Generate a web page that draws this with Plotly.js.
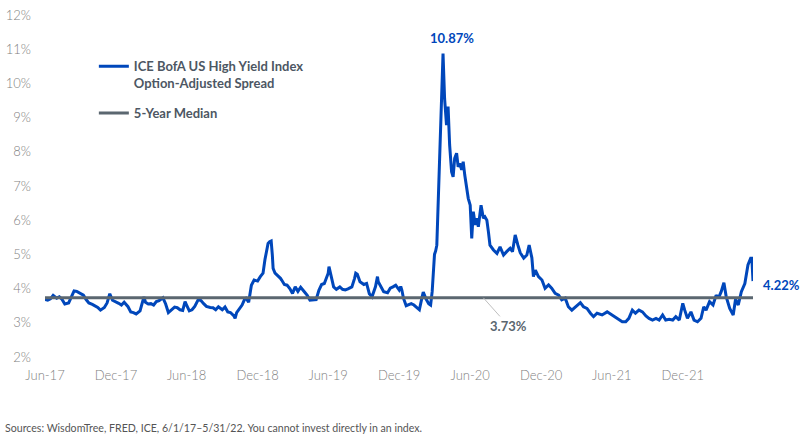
<!DOCTYPE html>
<html>
<head>
<meta charset="utf-8">
<script src="https://cdn.plot.ly/plotly-3.0.1.min.js"></script>
<style>
  html, body { margin: 0; padding: 0; background: #ffffff; }
  #chart { width: 800px; height: 446px; }
</style>
</head>
<body>
<div id="chart"></div>
<script>
// ---- Data ----
const dates = [
  "2017-06-01","2017-06-08","2017-06-15","2017-06-22","2017-07-01","2017-07-08","2017-07-15","2017-07-22",
  "2017-08-01","2017-08-08","2017-08-15","2017-08-22","2017-09-01","2017-09-08","2017-09-15","2017-09-22",
  "2017-10-01","2017-10-08","2017-10-15","2017-10-22","2017-11-01","2017-11-08","2017-11-15","2017-11-22",
  "2017-12-01","2017-12-08","2017-12-15","2017-12-22",
  "2018-01-01","2018-01-08","2018-01-15","2018-01-22","2018-02-01","2018-02-08","2018-02-11","2018-02-15","2018-02-22",
  "2018-03-01","2018-03-08","2018-03-15","2018-03-22","2018-04-01","2018-04-08","2018-04-15","2018-04-22",
  "2018-05-01","2018-05-08","2018-05-15","2018-05-22","2018-05-28","2018-06-01","2018-06-08","2018-06-15","2018-06-22",
  "2018-07-01","2018-07-08","2018-07-15","2018-07-22","2018-08-01","2018-08-08","2018-08-15","2018-08-22",
  "2018-09-01","2018-09-08","2018-09-15","2018-09-22","2018-10-01","2018-10-04","2018-10-08","2018-10-15","2018-10-22","2018-10-29",
  "2018-11-01","2018-11-08","2018-11-15","2018-11-22","2018-12-01","2018-12-08","2018-12-15","2018-12-20","2018-12-24","2018-12-28",
  "2019-01-01","2019-01-05","2019-01-08","2019-01-10","2019-01-15","2019-01-22","2019-01-29",
  "2019-02-01","2019-02-08","2019-02-15","2019-02-22","2019-03-01","2019-03-08","2019-03-15","2019-03-22",
  "2019-04-01","2019-04-08","2019-04-15","2019-04-22","2019-05-01","2019-05-08","2019-05-15","2019-05-22",
  "2019-06-01","2019-06-03","2019-06-08","2019-06-15","2019-06-22","2019-07-01","2019-07-08","2019-07-15","2019-07-22",
  "2019-08-01","2019-08-08","2019-08-11","2019-08-15","2019-08-22","2019-09-01","2019-09-08","2019-09-15","2019-09-22",
  "2019-10-01","2019-10-06","2019-10-08","2019-10-15","2019-10-22","2019-11-01","2019-11-08","2019-11-15","2019-11-22",
  "2019-12-01","2019-12-05","2019-12-08","2019-12-12","2019-12-19",
  "2020-01-01","2020-01-08","2020-01-15","2020-01-22","2020-01-29","2020-02-01","2020-02-08","2020-02-15","2020-02-20","2020-02-24",
  "2020-03-01","2020-03-04","2020-03-07","2020-03-11","2020-03-16","2020-03-19","2020-03-23","2020-03-27",
  "2020-04-01","2020-04-05","2020-04-09","2020-04-14","2020-04-18","2020-04-22","2020-04-27",
  "2020-05-01","2020-05-05","2020-05-10","2020-05-14","2020-05-18","2020-05-22","2020-05-27",
  "2020-06-01","2020-06-05","2020-06-09","2020-06-14","2020-06-18","2020-06-22","2020-06-29",
  "2020-07-05","2020-07-09","2020-07-14","2020-07-18","2020-07-22","2020-07-31","2020-08-09","2020-08-17","2020-08-26",
  "2020-09-03","2020-09-12","2020-09-18","2020-09-25","2020-10-02","2020-10-08","2020-10-17","2020-10-25","2020-10-31",
  "2020-11-07","2020-11-11","2020-11-16","2020-11-24","2020-12-03","2020-12-11","2020-12-20","2020-12-28",
  "2021-01-06","2021-01-15","2021-01-23","2021-02-01","2021-02-09","2021-02-18","2021-02-27",
  "2021-03-12","2021-03-20","2021-03-29","2021-04-07","2021-04-15","2021-04-24","2021-05-07","2021-05-20",
  "2021-06-02","2021-06-15","2021-06-28","2021-07-07","2021-07-15","2021-07-24","2021-08-01","2021-08-10","2021-08-19","2021-08-28",
  "2021-09-05","2021-09-14","2021-09-23","2021-10-01","2021-10-10","2021-10-18","2021-10-27",
  "2021-11-05","2021-11-13","2021-11-22","2021-12-01","2021-12-06","2021-12-13","2021-12-22","2021-12-30",
  "2022-01-08","2022-01-17","2022-01-24","2022-01-30","2022-02-08","2022-02-17","2022-02-25",
  "2022-03-03","2022-03-10","2022-03-17","2022-03-23","2022-04-01","2022-04-10","2022-04-16","2022-04-23",
  "2022-05-01","2022-05-10","2022-05-18","2022-05-25","2022-05-28","2022-05-31"
];
const hySpread = [
  3.68,3.66,3.70,3.80,3.72,3.76,3.68,3.55,
  3.58,3.75,3.93,3.92,3.86,3.81,3.68,3.58,
  3.54,3.50,3.45,3.37,3.45,3.58,3.85,3.66,
  3.62,3.57,3.52,3.60,
  3.47,3.32,3.30,3.26,3.35,3.60,3.76,3.60,3.55,
  3.56,3.52,3.62,3.65,3.73,3.55,3.30,3.36,
  3.46,3.44,3.38,3.36,3.62,3.52,3.35,3.38,3.48,
  3.68,3.65,3.56,3.48,3.45,3.44,3.38,3.47,
  3.38,3.46,3.32,3.30,3.20,3.13,3.30,3.40,3.52,3.70,
  3.72,3.60,4.10,4.25,4.22,4.35,4.45,4.85,5.15,5.32,
  5.37,5.39,4.98,4.59,4.45,4.38,4.30,
  4.25,4.12,4.10,4.00,3.86,4.05,3.92,4.04,
  3.90,3.80,3.66,3.66,3.68,3.95,4.12,4.15,
  4.45,4.64,4.35,4.05,3.98,4.05,3.98,3.96,3.99,
  4.05,4.30,4.45,4.42,4.20,4.12,4.15,3.85,3.76,
  4.06,4.35,4.20,4.05,3.91,3.88,4.01,4.05,4.10,
  3.96,4.06,3.95,3.72,3.50,
  3.56,3.52,3.45,3.38,3.75,3.90,3.70,3.56,3.52,3.91,
  5.00,5.10,5.27,6.54,8.20,9.66,10.87,9.56,
  8.78,9.32,8.20,7.42,7.27,7.81,7.96,
  7.56,7.66,7.47,7.71,7.32,7.03,6.64,
  6.44,5.47,6.25,5.86,6.06,5.81,6.44,
  6.06,6.10,6.00,5.66,5.27,5.13,5.03,5.22,4.98,
  5.08,5.18,5.08,5.57,5.27,5.05,4.89,4.98,5.27,
  4.90,4.35,4.54,4.35,4.25,4.01,4.11,4.01,
  3.86,3.81,3.67,3.72,3.47,3.37,3.47,
  3.59,3.47,3.42,3.28,3.18,3.28,3.23,3.32,
  3.23,3.13,3.03,3.03,3.13,3.37,3.28,3.37,3.32,3.20,
  3.13,3.08,3.13,3.08,3.23,3.08,3.10,
  3.08,3.18,3.08,3.57,3.37,3.13,3.32,3.08,
  3.03,3.13,3.47,3.37,3.62,3.52,3.81,
  3.72,3.91,4.17,3.76,3.42,3.23,3.69,3.52,
  3.91,4.15,4.69,4.89,4.89,4.22
];
const medianValue = 3.73;
const medianDates = ["2017-06-01", "2022-05-31"];
const medianValues = [medianValue, medianValue];
const tickDates = ["2017-06-01","2017-12-01","2018-06-01","2018-12-01","2019-06-01",
                   "2019-12-01","2020-06-01","2020-12-01","2021-06-01","2021-12-01"];
const tickLabels = ["Jun-17","Dec-17","Jun-18","Dec-18","Jun-19","Dec-19","Jun-20","Dec-20","Jun-21","Dec-21"];
const yTicks = [2,3,4,5,6,7,8,9,10,11,12];
const yTickLabels = ["2%","3%","4%","5%","6%","7%","8%","9%","10%","11%","12%"];
const seriesNames = ["ICE BofA US High Yield Index<br>Option-Adjusted Spread", "5-Year Median"];
const sourceText = "Sources: WisdomTree, FRED, ICE, 6/1/17\u20135/31/22. You cannot invest directly in an index.";

// ---- Styles ----
const BLUE = "#0047bb";
const GREY = "#5b6770";
const FONT = "Lato, 'Open Sans', sans-serif";

// peak / last points from data
let peakIdx = 0;
hySpread.forEach((v, i) => { if (v > hySpread[peakIdx]) peakIdx = i; });
const lastIdx = hySpread.length - 1;

const traces = [
  {
    x: dates, y: hySpread, type: "scatter", mode: "lines",
    name: seriesNames[0], legendgroup: "a",
    line: { color: BLUE, width: 3 }
  },
  {
    x: medianDates, y: medianValues, type: "scatter", mode: "lines",
    name: seriesNames[1], legendgroup: "b",
    line: { color: GREY, width: 3 }
  }
];

const layout = {
  width: 800, height: 446,
  margin: { l: 45, r: 47, t: 15, b: 89 },
  paper_bgcolor: "#ffffff", plot_bgcolor: "#ffffff",
  font: { family: FONT, color: "#7f7f7f" },
  showlegend: true,
  legend: {
    x: 0.069, y: 0.894, xanchor: "left", yanchor: "top",
    bgcolor: "rgba(0,0,0,0)", borderwidth: 0,
    valign: "top", tracegroupgap: 10,
    font: { family: FONT, size: 13, color: "#4d5763", weight: 700 }
  },
  xaxis: {
    type: "date",
    range: [medianDates[0], medianDates[1]],
    tickmode: "array", tickvals: tickDates, ticktext: tickLabels,
    showgrid: false, zeroline: false, showline: false, ticks: "",
    ticklabelstandoff: 9,
    tickfont: { family: FONT, size: 13, color: "#7f7f7f", weight: 300 }
  },
  yaxis: {
    range: [2, 12],
    tickmode: "array", tickvals: yTicks, ticktext: yTickLabels,
    showgrid: false, zeroline: false, showline: false, ticks: "",
    ticklabelstandoff: 13,
    tickfont: { family: FONT, size: 13, color: "#7f7f7f", weight: 300 }
  },
  annotations: [
    {
      x: dates[peakIdx], y: hySpread[peakIdx], xref: "x", yref: "y",
      text: hySpread[peakIdx].toFixed(2) + "%", showarrow: false,
      xanchor: "center", yanchor: "bottom", xshift: 9, yshift: 6,
      font: { family: FONT, size: 13, color: BLUE, weight: 700 }
    },
    {
      x: dates[lastIdx], y: hySpread[lastIdx], xref: "x", yref: "y",
      text: hySpread[lastIdx].toFixed(2) + "%", showarrow: false,
      xanchor: "left", yanchor: "middle", xshift: 8, yshift: -4,
      font: { family: FONT, size: 13, color: BLUE, weight: 700 }
    },
    {
      x: "2020-07-05", y: medianValue, xref: "x", yref: "y",
      text: medianValue.toFixed(2) + "%", showarrow: true,
      arrowhead: 0, arrowwidth: 1, arrowcolor: "#bfbfbf",
      ax: 25, ay: 28, standoff: 0,
      font: { family: FONT, size: 13, color: GREY, weight: 700 }
    },
    {
      x: -0.0593, y: -0.2076, xref: "paper", yref: "paper",
      text: sourceText, showarrow: false,
      xanchor: "left", yanchor: "middle",
      font: { family: FONT, size: 10.6, color: "#555555" }
    }
  ]
};

Plotly.newPlot("chart", traces, layout, { displayModeBar: false, staticPlot: true });
</script>
</body>
</html>
